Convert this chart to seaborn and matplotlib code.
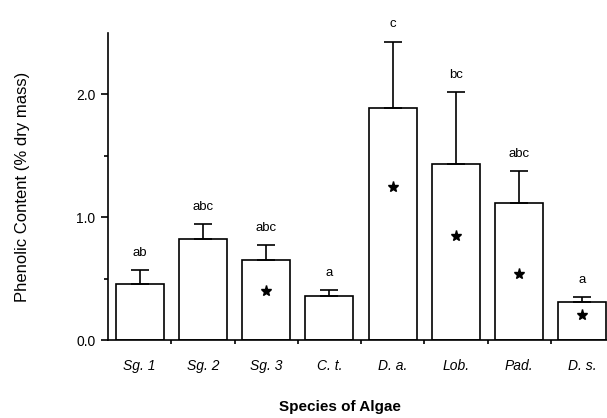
import numpy as np
import pandas as pd
import matplotlib
matplotlib.use("Agg")
import matplotlib.pyplot as plt
import seaborn as sns

species = ["Sg. 1", "Sg. 2", "Sg. 3", "C. t.", "D. a.", "Lob.", "Pad.", "D. s."]
phenolic = [0.46, 0.82, 0.65, 0.36, 1.89, 1.43, 1.115, 0.31]
std_err = [0.11, 0.125, 0.125, 0.05, 0.54, 0.59, 0.26, 0.04]
groups = ["ab", "abc", "abc", "a", "c", "bc", "abc", "a"]
# stars drawn inside some bars (None = no star)
star_y = [None, None, 0.40, None, 1.245, 0.85, 0.54, 0.20]

sns.set_style("white", {"text.color": "black", "axes.labelcolor": "black",
                        "xtick.color": "black", "ytick.color": "black"})
plt.rcParams["font.family"] = ["Liberation Sans", "DejaVu Sans"]

df = pd.DataFrame({"species": species, "phenolic": phenolic})

fig = plt.figure(figsize=(6.07, 4.18), dpi=100)
ax = fig.add_axes([108 / 607, 78 / 418, 506 / 607, 307 / 418])

sns.barplot(data=df, x="species", y="phenolic", color="white", edgecolor="black",
            linewidth=1.2, width=0.76, errorbar=None, ax=ax)
for p in ax.patches:
    p.set_facecolor("white")

x = np.arange(len(species))
# upper error bars only
ax.errorbar(x, phenolic, yerr=[np.zeros(len(std_err)), std_err], fmt="none",
            ecolor="black", elinewidth=1.2, capsize=6.5, capthick=1.2, zorder=1)

for i, (m, e, g) in enumerate(zip(phenolic, std_err, groups)):
    ax.annotate(g, xy=(i, m + e), xytext=(0, 8), textcoords="offset points",
                ha="center", va="bottom", fontsize=9.5, color="black")

for i, s in enumerate(star_y):
    if s is not None:
        ax.plot(i, s, marker="*", color="black", markersize=8, linestyle="none")

ax.set_xlim(-0.5, len(species) - 0.5)
ax.set_ylim(0, 2.5)

ax.set_yticks([0, 1, 2])
ax.set_yticklabels(["0.0", "1.0", "2.0"])
ax.set_yticks([0.5, 1.5], minor=True)
ax.set_xticks(np.arange(0.5, len(species) - 0.5, 1), minor=True)

ax.tick_params(axis="x", which="major", length=0, pad=14, labelsize=10)
ax.tick_params(axis="x", which="minor", length=3, width=1.2, direction="out", bottom=True)
ax.tick_params(axis="y", which="major", length=5, width=1.2, direction="out", left=True,
               pad=4, labelsize=10)
ax.tick_params(axis="y", which="minor", length=3, width=1.2, direction="out", left=True)
for lab in ax.get_xticklabels():
    lab.set_style("italic")

for side in ["top", "right"]:
    ax.spines[side].set_visible(False)
for side in ["left", "bottom"]:
    ax.spines[side].set_color("black")
    ax.spines[side].set_linewidth(1.2)

ax.set_xlabel("Species of Algae", fontsize=11, fontweight="bold")
ax.set_ylabel("Phenolic Content (% dry mass)", fontsize=12)
ax.xaxis.set_label_coords(0.458, -0.195)
ax.yaxis.set_label_coords(-0.155, 0.5)

fig.savefig("out.png", dpi=100)
